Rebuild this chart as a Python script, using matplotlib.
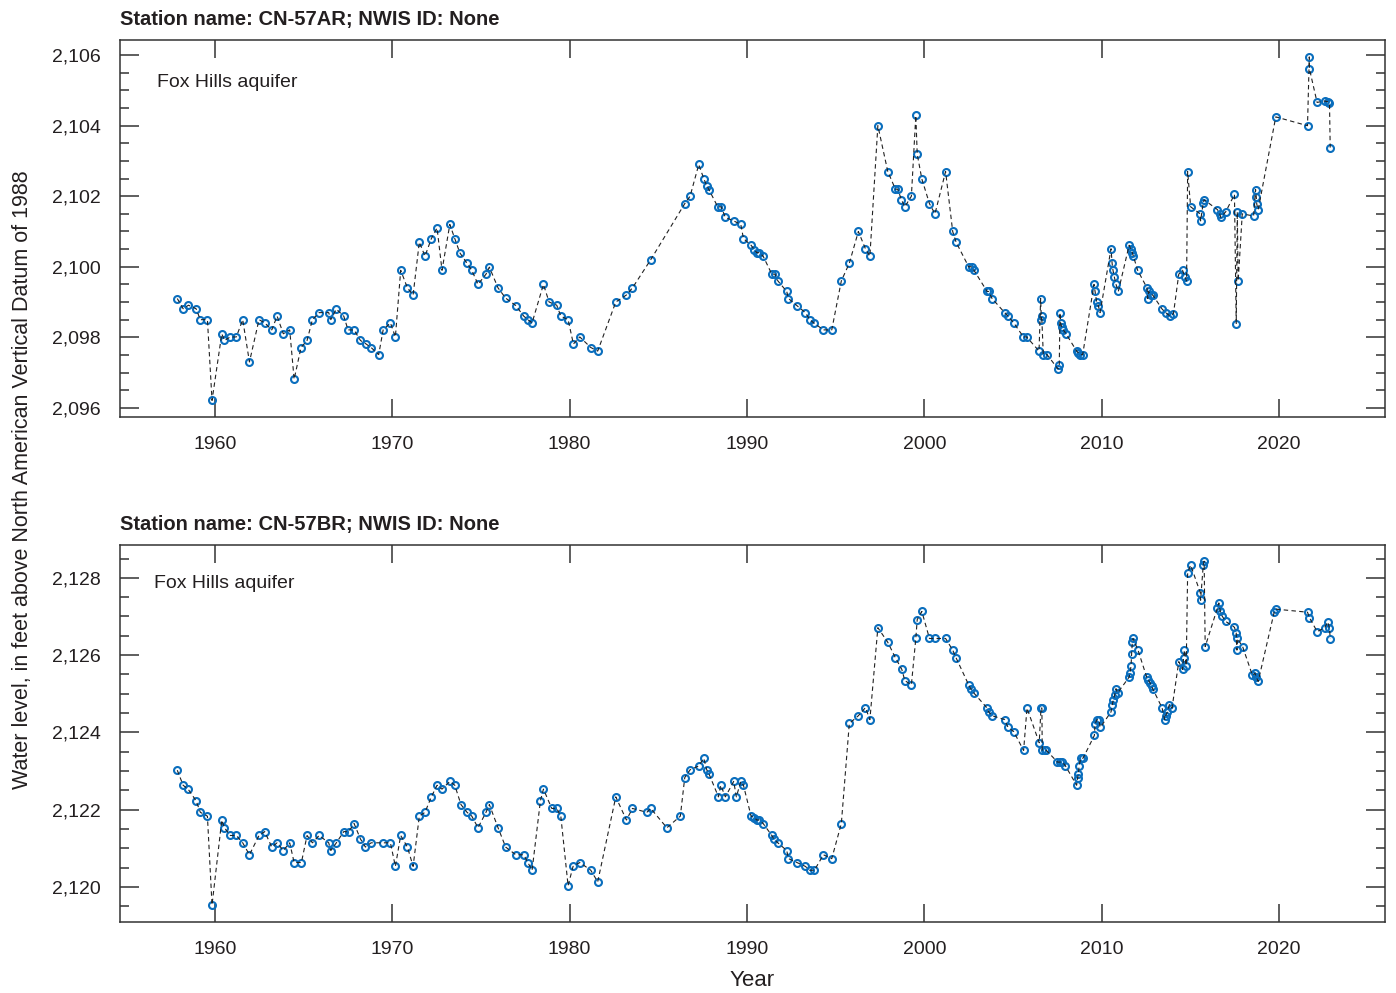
import matplotlib
matplotlib.use("Agg")
import matplotlib.pyplot as plt
from matplotlib.ticker import FuncFormatter, MultipleLocator

# ---- DATA ----
STATIONS = ["CN-57AR", "CN-57BR"]
AQUIFER = "Fox Hills aquifer"

years_a = [
    1957.87, 1958.20, 1958.50, 1958.93, 1959.17, 1959.57, 1959.83, 1960.38, 1960.53, 1960.86,
    1961.20, 1961.56, 1961.94, 1962.48, 1962.80, 1963.20, 1963.50, 1963.85, 1964.21, 1964.46,
    1964.85, 1965.19, 1965.49, 1965.87, 1966.41, 1966.53, 1966.84, 1967.26, 1967.50, 1967.84,
    1968.20, 1968.52, 1968.80, 1969.23, 1969.48, 1969.89, 1970.17, 1970.47, 1970.85, 1971.17,
    1971.52, 1971.84, 1972.20, 1972.52, 1972.80, 1973.24, 1973.52, 1973.80, 1974.21, 1974.48,
    1974.83, 1975.28, 1975.47, 1975.96, 1976.39, 1976.96, 1977.41, 1977.64, 1977.88, 1978.52,
    1978.84, 1979.27, 1979.50, 1979.91, 1980.21, 1980.57, 1981.19, 1981.58, 1982.60, 1983.20,
    1983.54, 1984.57, 1986.49, 1986.79, 1987.28, 1987.56, 1987.73, 1987.85, 1988.35, 1988.54,
    1988.78, 1989.25, 1989.65, 1989.80, 1990.23, 1990.42, 1990.55, 1990.70, 1990.91, 1991.40,
    1991.58, 1991.74, 1992.24, 1992.34, 1992.81, 1993.29, 1993.54, 1993.76, 1994.31, 1994.78,
    1995.32, 1995.77, 1996.28, 1996.68, 1996.93, 1997.38, 1997.94, 1998.37, 1998.50, 1998.71,
    1998.90, 1999.27, 1999.52, 1999.60, 1999.86, 2000.29, 2000.60, 2001.20, 2001.60, 2001.79,
    2002.50, 2002.69, 2002.80, 2003.54, 2003.63, 2003.82, 2004.53, 2004.72, 2005.04, 2005.59,
    2005.77, 2006.47, 2006.56, 2006.60, 2006.62, 2006.71, 2006.92, 2007.54, 2007.61, 2007.65,
    2007.69, 2007.74, 2007.84, 2007.99, 2008.59, 2008.69, 2008.79, 2008.93, 2009.57, 2009.63,
    2009.72, 2009.81, 2009.91, 2010.53, 2010.59, 2010.64, 2010.72, 2010.81, 2010.94, 2011.55,
    2011.64, 2011.73, 2011.79, 2012.03, 2012.56, 2012.60, 2012.65, 2012.77, 2012.88, 2013.41,
    2013.61, 2013.86, 2014.05, 2014.35, 2014.56, 2014.71, 2014.79, 2014.85, 2015.02, 2015.56,
    2015.58, 2015.73, 2015.78, 2016.53, 2016.66, 2016.72, 2017.00, 2017.49, 2017.59, 2017.65,
    2017.70, 2017.93, 2018.57, 2018.68, 2018.72, 2018.75, 2018.83, 2019.82, 2021.61, 2021.71,
    2021.72, 2022.15, 2022.57, 2022.74, 2022.85, 2022.89,
]
level_a = [
    2099.10, 2098.81, 2098.91, 2098.81, 2098.50, 2098.50, 2096.21, 2098.10, 2097.91, 2098.01,
    2098.01, 2098.50, 2097.30, 2098.50, 2098.41, 2098.21, 2098.60, 2098.10, 2098.21, 2096.81,
    2097.71, 2097.91, 2098.50, 2098.70, 2098.70, 2098.50, 2098.80, 2098.60, 2098.21, 2098.21,
    2097.91, 2097.81, 2097.71, 2097.51, 2098.21, 2098.41, 2098.01, 2099.90, 2099.40, 2099.20,
    2100.70, 2100.30, 2100.80, 2101.10, 2099.90, 2101.20, 2100.80, 2100.40, 2100.10, 2099.90,
    2099.50, 2099.79, 2099.99, 2099.40, 2099.11, 2098.90, 2098.60, 2098.50, 2098.41, 2099.50,
    2099.00, 2098.91, 2098.60, 2098.50, 2097.81, 2098.01, 2097.71, 2097.61, 2099.00, 2099.20,
    2099.40, 2100.20, 2101.79, 2102.00, 2102.90, 2102.50, 2102.30, 2102.19, 2101.70, 2101.70,
    2101.40, 2101.30, 2101.20, 2100.80, 2100.61, 2100.48, 2100.40, 2100.40, 2100.30, 2099.79,
    2099.79, 2099.60, 2099.30, 2099.10, 2098.90, 2098.70, 2098.50, 2098.41, 2098.21, 2098.21,
    2099.60, 2100.10, 2101.00, 2100.51, 2100.30, 2104.00, 2102.70, 2102.20, 2102.20, 2101.90,
    2101.70, 2102.00, 2104.29, 2103.19, 2102.49, 2101.79, 2101.50, 2102.70, 2101.00, 2100.70,
    2100.00, 2100.00, 2099.90, 2099.30, 2099.30, 2099.10, 2098.70, 2098.60, 2098.41, 2098.01,
    2098.01, 2097.61, 2099.10, 2098.50, 2098.60, 2097.51, 2097.51, 2097.10, 2097.21, 2098.70,
    2098.41, 2098.30, 2098.21, 2098.10, 2097.61, 2097.56, 2097.51, 2097.51, 2099.50, 2099.30,
    2099.00, 2098.90, 2098.70, 2100.51, 2100.10, 2099.90, 2099.70, 2099.50, 2099.30, 2100.61,
    2100.51, 2100.40, 2100.30, 2099.90, 2099.40, 2099.10, 2099.30, 2099.20, 2099.20, 2098.80,
    2098.70, 2098.60, 2098.67, 2099.79, 2099.90, 2099.70, 2099.60, 2102.70, 2101.70, 2101.50,
    2101.30, 2101.81, 2101.90, 2101.62, 2101.50, 2101.40, 2101.56, 2102.05, 2098.39, 2101.56,
    2099.60, 2101.50, 2101.44, 2102.19, 2101.98, 2101.77, 2101.62, 2104.25, 2104.00, 2105.95,
    2105.61, 2104.66, 2104.70, 2104.68, 2104.63, 2103.38,
]

years_b = [
    1957.87, 1958.20, 1958.48, 1958.93, 1959.17, 1959.57, 1959.83, 1960.38, 1960.53, 1960.86,
    1961.20, 1961.56, 1961.94, 1962.48, 1962.80, 1963.20, 1963.50, 1963.85, 1964.21, 1964.46,
    1964.87, 1965.19, 1965.49, 1965.87, 1966.41, 1966.53, 1966.84, 1967.26, 1967.54, 1967.84,
    1968.20, 1968.48, 1968.80, 1969.48, 1969.89, 1970.17, 1970.47, 1970.85, 1971.17, 1971.52,
    1971.84, 1972.20, 1972.52, 1972.80, 1973.24, 1973.52, 1973.87, 1974.21, 1974.48, 1974.83,
    1975.28, 1975.47, 1975.96, 1976.39, 1976.96, 1977.41, 1977.64, 1977.88, 1978.35, 1978.52,
    1978.99, 1979.27, 1979.50, 1979.91, 1980.19, 1980.57, 1981.19, 1981.58, 1982.60, 1983.20,
    1983.54, 1984.35, 1984.57, 1985.48, 1986.24, 1986.49, 1986.79, 1987.28, 1987.56, 1987.73,
    1987.85, 1988.39, 1988.52, 1988.78, 1989.25, 1989.40, 1989.65, 1989.80, 1990.23, 1990.42,
    1990.55, 1990.70, 1990.91, 1991.40, 1991.53, 1991.74, 1992.24, 1992.34, 1992.81, 1993.29,
    1993.54, 1993.80, 1994.31, 1994.78, 1995.32, 1995.77, 1996.28, 1996.68, 1996.93, 1997.38,
    1997.94, 1998.37, 1998.73, 1998.90, 1999.27, 1999.52, 1999.60, 1999.86, 2000.29, 2000.60,
    2001.20, 2001.60, 2001.79, 2002.50, 2002.62, 2002.79, 2003.54, 2003.63, 2003.82, 2004.53,
    2004.72, 2005.04, 2005.60, 2005.79, 2006.48, 2006.58, 2006.63, 2006.65, 2006.80, 2006.89,
    2007.51, 2007.65, 2007.79, 2007.96, 2008.59, 2008.65, 2008.69, 2008.73, 2008.82, 2008.95,
    2009.59, 2009.63, 2009.74, 2009.83, 2009.93, 2010.53, 2010.60, 2010.66, 2010.73, 2010.81,
    2010.90, 2011.55, 2011.60, 2011.66, 2011.69, 2011.73, 2011.77, 2012.05, 2012.54, 2012.63,
    2012.73, 2012.82, 2012.88, 2013.41, 2013.56, 2013.61, 2013.71, 2013.82, 2013.97, 2014.35,
    2014.56, 2014.62, 2014.67, 2014.77, 2014.85, 2015.02, 2015.56, 2015.58, 2015.73, 2015.78,
    2015.84, 2016.53, 2016.61, 2016.69, 2016.78, 2017.00, 2017.49, 2017.59, 2017.63, 2017.65,
    2017.95, 2018.50, 2018.65, 2018.72, 2018.83, 2019.73, 2019.82, 2021.61, 2021.72, 2022.15,
    2022.57, 2022.75, 2022.85, 2022.89,
]
level_b = [
    2123.02, 2122.63, 2122.53, 2122.23, 2121.93, 2121.83, 2119.53, 2121.73, 2121.53, 2121.33,
    2121.33, 2121.14, 2120.83, 2121.33, 2121.43, 2121.03, 2121.14, 2120.94, 2121.14, 2120.63,
    2120.63, 2121.33, 2121.14, 2121.33, 2121.14, 2120.94, 2121.14, 2121.43, 2121.43, 2121.64,
    2121.24, 2121.03, 2121.14, 2121.14, 2121.14, 2120.53, 2121.33, 2121.03, 2120.53, 2121.83,
    2121.93, 2122.33, 2122.63, 2122.53, 2122.73, 2122.63, 2122.13, 2121.93, 2121.83, 2121.53,
    2121.93, 2122.13, 2121.53, 2121.03, 2120.83, 2120.83, 2120.63, 2120.43, 2122.23, 2122.53,
    2122.03, 2122.03, 2121.83, 2120.03, 2120.53, 2120.63, 2120.43, 2120.13, 2122.33, 2121.73,
    2122.03, 2121.93, 2122.03, 2121.53, 2121.83, 2122.83, 2123.03, 2123.13, 2123.33, 2123.03,
    2122.93, 2122.33, 2122.63, 2122.33, 2122.73, 2122.33, 2122.73, 2122.63, 2121.83, 2121.79,
    2121.73, 2121.73, 2121.64, 2121.33, 2121.23, 2121.14, 2120.94, 2120.73, 2120.63, 2120.53,
    2120.43, 2120.43, 2120.83, 2120.73, 2121.64, 2124.23, 2124.43, 2124.64, 2124.33, 2126.71,
    2126.33, 2125.93, 2125.63, 2125.34, 2125.23, 2126.43, 2126.92, 2127.13, 2126.43, 2126.43,
    2126.43, 2126.13, 2125.93, 2125.23, 2125.13, 2125.02, 2124.63, 2124.53, 2124.43, 2124.33,
    2124.13, 2124.02, 2123.53, 2124.63, 2123.73, 2124.63, 2124.63, 2123.53, 2123.53, 2123.53,
    2123.23, 2123.23, 2123.23, 2123.13, 2122.63, 2122.83, 2122.93, 2123.13, 2123.33, 2123.33,
    2123.92, 2124.22, 2124.33, 2124.33, 2124.13, 2124.53, 2124.72, 2124.84, 2124.96, 2125.13,
    2125.02, 2125.43, 2125.53, 2125.73, 2126.03, 2126.33, 2126.43, 2126.13, 2125.43, 2125.36,
    2125.28, 2125.19, 2125.13, 2124.63, 2124.33, 2124.43, 2124.53, 2124.72, 2124.63, 2125.83,
    2125.63, 2125.93, 2126.13, 2125.73, 2128.13, 2128.33, 2127.62, 2127.42, 2128.33, 2128.43,
    2126.22, 2127.22, 2127.35, 2127.13, 2127.02, 2126.87, 2126.72, 2126.57, 2126.13, 2126.43,
    2126.22, 2125.48, 2125.53, 2125.43, 2125.32, 2127.11, 2127.19, 2127.11, 2126.97, 2126.61,
    2126.70, 2126.86, 2126.70, 2126.42,
]

X_TICKS = [1960, 1970, 1980, 1990, 2000, 2010, 2020]
Y_TICKS_A = [2096, 2098, 2100, 2102, 2104, 2106]
Y_TICKS_B = [2120, 2122, 2124, 2126, 2128]
# ----------------------------------------

plt.rcParams["font.family"] = ["Liberation Sans", "DejaVu Sans"]

BLUE = "#0a6ebd"
TEXT = "#231f20"


def draw_panel(ax, years, levels, station, yticks, ylim):
    ax.plot(years, levels, linestyle="none", marker="o", markersize=5,
            markerfacecolor="none", markeredgecolor=BLUE, markeredgewidth=1.5,
            zorder=2)
    ax.plot(years, levels, linestyle=(0, (4, 3)), color="#222222",
            linewidth=0.8, zorder=3)

    ax.set_xlim(1954.64, 2025.98)
    ax.set_ylim(*ylim)
    ax.set_xticks(X_TICKS)
    ax.set_yticks(yticks)
    ax.yaxis.set_minor_locator(MultipleLocator(0.5))
    ax.yaxis.set_major_formatter(FuncFormatter(lambda v, p: f"{v:,.0f}"))

    ax.tick_params(axis="both", which="both", direction="in", colors="#333333",
                   labelcolor=TEXT, labelsize=14, top=True, right=True, width=1.1)
    ax.tick_params(axis="x", which="major", length=13, pad=14)
    ax.tick_params(axis="y", which="major", length=13.5, pad=14)
    ax.tick_params(axis="y", which="minor", length=6.5)
    for s in ax.spines.values():
        s.set_linewidth(1.1)
        s.set_color("#333333")

    ax.set_title(f"Station name: {station}; NWIS ID: None", loc="left",
                 fontsize=14.5, fontweight="bold", color=TEXT, pad=11)


fig = plt.figure(figsize=(13.96, 9.93), dpi=100)
ax1 = fig.add_axes([0.08596, 0.58006, 0.90616, 0.37966])
ax2 = fig.add_axes([0.08596, 0.07150, 0.90616, 0.37966])

draw_panel(ax1, years_a, level_a, STATIONS[0], Y_TICKS_A, (2095.74, 2106.43))
draw_panel(ax2, years_b, level_b, STATIONS[1], Y_TICKS_B, (2119.09, 2128.85))

ax1.text(0.029, 0.886, AQUIFER, transform=ax1.transAxes, fontsize=14,
         color=TEXT, va="center", ha="left")
ax2.text(0.027, 0.899, AQUIFER, transform=ax2.transAxes, fontsize=14,
         color=TEXT, va="center", ha="left")

ax2.set_xlabel("Year", fontsize=16, color=TEXT, labelpad=8)
fig.text(0.016, 0.517, "Water level, in feet above North American Vertical Datum of 1988",
         rotation=90, va="center", ha="center", fontsize=15.5, color=TEXT)

fig.savefig("out.png", dpi=100)
